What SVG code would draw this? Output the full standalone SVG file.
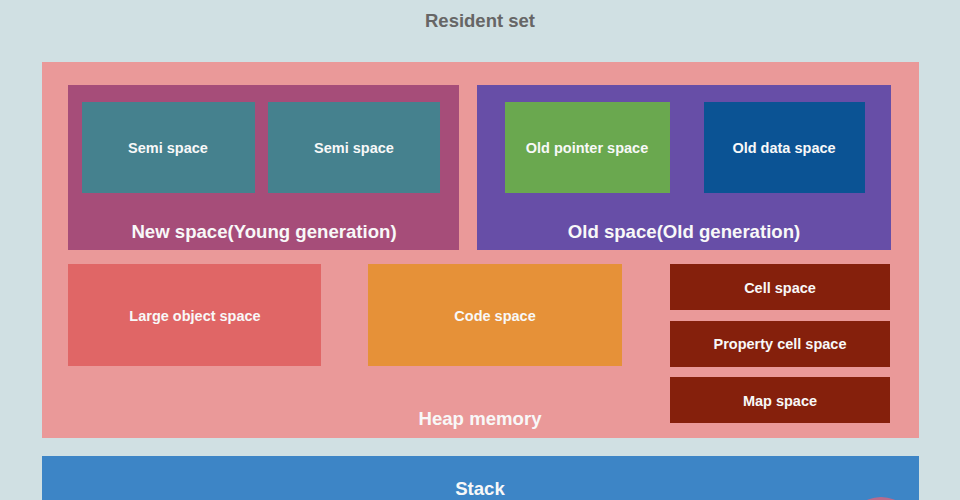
<svg xmlns="http://www.w3.org/2000/svg" width="960" height="500" viewBox="0 0 960 500">
<style>
.t{font-family:"Liberation Sans",Arial,sans-serif;font-weight:bold;fill:#f8f8f8;text-anchor:middle;dominant-baseline:central}
.s{font-size:14.5px}
.l{font-size:18.6px}
</style>
<rect x="0" y="0" width="960" height="500" fill="#d0e0e3"/>
<text x="480" y="20" class="t" style="fill:#666666;font-size:18.5px">Resident set</text>
<g id="heap">
<rect x="42" y="62" width="877" height="376" fill="#ea9999"/>
<text x="480" y="418" class="t l">Heap memory</text>
</g>
<g id="new-space">
<rect x="68" y="85" width="391" height="165" fill="#a64d79"/>
<text x="264" y="231" class="t l">New space(Young generation)</text>
</g>
<g id="semi-space-1">
<rect x="82" y="102" width="173" height="91" fill="#45818e"/>
<text x="168" y="148" class="t s">Semi space</text>
</g>
<g id="semi-space-2">
<rect x="268" y="102" width="172" height="91" fill="#45818e"/>
<text x="354" y="148" class="t s">Semi space</text>
</g>
<g id="old-space">
<rect x="477" y="85" width="414" height="165" fill="#674ea7"/>
<text x="684" y="231" class="t l">Old space(Old generation)</text>
</g>
<g id="old-pointer-space">
<rect x="505" y="102" width="165" height="91" fill="#6aa84f"/>
<text x="587" y="148" class="t s">Old pointer space</text>
</g>
<g id="old-data-space">
<rect x="704" y="102" width="161" height="91" fill="#0b5394"/>
<text x="784" y="148" class="t s">Old data space</text>
</g>
<g id="large-object-space">
<rect x="68" y="264" width="253" height="102" fill="#e06666"/>
<text x="195" y="316" class="t s">Large object space</text>
</g>
<g id="code-space">
<rect x="368" y="264" width="254" height="102" fill="#e69138"/>
<text x="495" y="316" class="t s">Code space</text>
</g>
<g id="cell-space">
<rect x="670" y="264" width="220" height="46" fill="#85200c"/>
<text x="780" y="288" class="t s">Cell space</text>
</g>
<g id="property-cell-space">
<rect x="670" y="321" width="220" height="46" fill="#85200c"/>
<text x="780" y="344" class="t s">Property cell space</text>
</g>
<g id="map-space">
<rect x="670" y="377" width="220" height="46" fill="#85200c"/>
<text x="780" y="401" class="t s">Map space</text>
</g>
<g id="stack">
<rect x="42" y="456" width="877" height="50" fill="#3d85c6"/>
<text x="480" y="488" class="t l">Stack</text>
<ellipse cx="881" cy="531" rx="34" ry="34" fill="#b96b8c"/>
</g>
<g id="connectors"/>
</svg>
